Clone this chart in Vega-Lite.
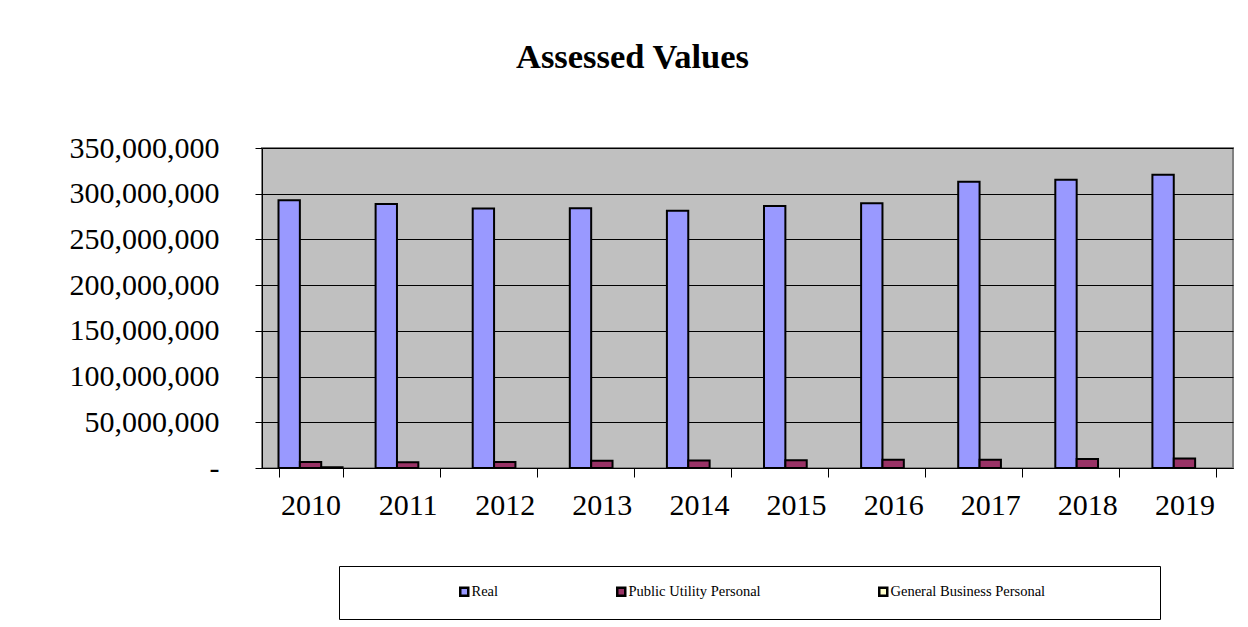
{
  "$schema": "https://vega.github.io/schema/vega-lite/v6.json",
  "width": 971,
  "height": 320,
  "autosize": {"type": "none"},
  "padding": {"left": 262, "top": 148, "right": 15, "bottom": 159},
  "background": "white",
  "title": {
    "text": "Assessed Values",
    "font": "Liberation Serif",
    "fontSize": 34.5,
    "fontWeight": "bold",
    "color": "black",
    "anchor": "middle",
    "frame": "group",
    "baseline": "alphabetic",
    "offset": 31,
    "dx": -115
  },
  "data": {
    "values": [
      {"year": "2010", "series": "Real", "value": 292800000},
      {"year": "2011", "series": "Real", "value": 288700000},
      {"year": "2012", "series": "Real", "value": 283700000},
      {"year": "2013", "series": "Real", "value": 284200000},
      {"year": "2014", "series": "Real", "value": 281400000},
      {"year": "2015", "series": "Real", "value": 286500000},
      {"year": "2016", "series": "Real", "value": 289700000},
      {"year": "2017", "series": "Real", "value": 313000000},
      {"year": "2018", "series": "Real", "value": 315200000},
      {"year": "2019", "series": "Real", "value": 320700000},
      {"year": "2010", "series": "Public Utility Personal", "value": 6500000},
      {"year": "2011", "series": "Public Utility Personal", "value": 6300000},
      {"year": "2012", "series": "Public Utility Personal", "value": 6600000},
      {"year": "2013", "series": "Public Utility Personal", "value": 8000000},
      {"year": "2014", "series": "Public Utility Personal", "value": 8200000},
      {"year": "2015", "series": "Public Utility Personal", "value": 8400000},
      {"year": "2016", "series": "Public Utility Personal", "value": 8900000},
      {"year": "2017", "series": "Public Utility Personal", "value": 9000000},
      {"year": "2018", "series": "Public Utility Personal", "value": 9900000},
      {"year": "2019", "series": "Public Utility Personal", "value": 10500000},
      {"year": "2010", "series": "General Business Personal", "value": 800000},
      {"year": "2011", "series": "General Business Personal", "value": 0},
      {"year": "2012", "series": "General Business Personal", "value": 0},
      {"year": "2013", "series": "General Business Personal", "value": 0},
      {"year": "2014", "series": "General Business Personal", "value": 0},
      {"year": "2015", "series": "General Business Personal", "value": 0},
      {"year": "2016", "series": "General Business Personal", "value": 0},
      {"year": "2017", "series": "General Business Personal", "value": 0},
      {"year": "2018", "series": "General Business Personal", "value": 0},
      {"year": "2019", "series": "General Business Personal", "value": 0}
    ]
  },
  "mark": {"type": "bar", "stroke": "black", "strokeWidth": 2},
  "encoding": {
    "x": {
      "field": "year",
      "type": "nominal",
      "scale": {"paddingInner": 0.34, "paddingOuter": 0.17},
      "axis": {
        "title": null,
        "labelAngle": 0,
        "labelFont": "Liberation Serif",
        "labelFontSize": 30,
        "labelColor": "black",
        "labelPadding": 13,
        "tickBand": "extent",
        "tickSize": 9,
        "tickColor": "black",
        "domainColor": "black",
        "domainWidth": 1,
        "grid": false
      }
    },
    "xOffset": {
      "field": "series",
      "type": "nominal",
      "sort": ["Real", "Public Utility Personal", "General Business Personal"],
      "scale": {"paddingInner": 0, "paddingOuter": 0}
    },
    "y": {
      "field": "value",
      "type": "quantitative",
      "scale": {"domain": [0, 350000000], "nice": false},
      "axis": {
        "title": null,
        "values": [0, 50000000, 100000000, 150000000, 200000000, 250000000, 300000000, 350000000],
        "labelExpr": "datum.value === 0 ? '-' : format(datum.value, ',')",
        "labelFont": "Liberation Serif",
        "labelFontSize": 30,
        "labelColor": "black",
        "labelPadding": 36,
        "tickSize": 7,
        "tickColor": "black",
        "domainColor": "black",
        "domainWidth": 1,
        "grid": true,
        "gridColor": "black",
        "gridWidth": 1,
        "gridOpacity": 1
      }
    },
    "color": {
      "field": "series",
      "type": "nominal",
      "scale": {
        "domain": ["Real", "Public Utility Personal", "General Business Personal"],
        "range": ["#9999FF", "#993366", "#FFFFCC"]
      },
      "legend": {
        "orient": "none",
        "legendX": 77,
        "legendY": 418,
        "direction": "horizontal",
        "columns": 3,
        "columnPadding": 113,
        "title": " ",
        "titleOrient": "left",
        "titleFontSize": 1,
        "titlePadding": 100,
        "padding": 18,
        "strokeColor": "black",
        "symbolType": "square",
        "symbolSize": 64,
        "symbolStrokeColor": "black",
        "symbolStrokeWidth": 2.5,
        "symbolOpacity": 1,
        "labelFont": "Liberation Serif",
        "labelFontSize": 14.5,
        "labelColor": "black",
        "labelOffset": 0,
        "labelLimit": 0,
        "labelExpr": "datum.label === 'General Business Personal' ? datum.label + '\u2003\u2003\u2003\u2003\u2003\u2003\u2002\u2006\u200B' : datum.label"
      }
    },
    "strokeOpacity": {
      "condition": {"test": "datum.value === 0", "value": 0},
      "value": 1
    }
  },
  "config": {
    "view": {"fill": "#C0C0C0", "stroke": "#808080", "strokeWidth": 2},
    "font": "Liberation Serif"
  }
}
